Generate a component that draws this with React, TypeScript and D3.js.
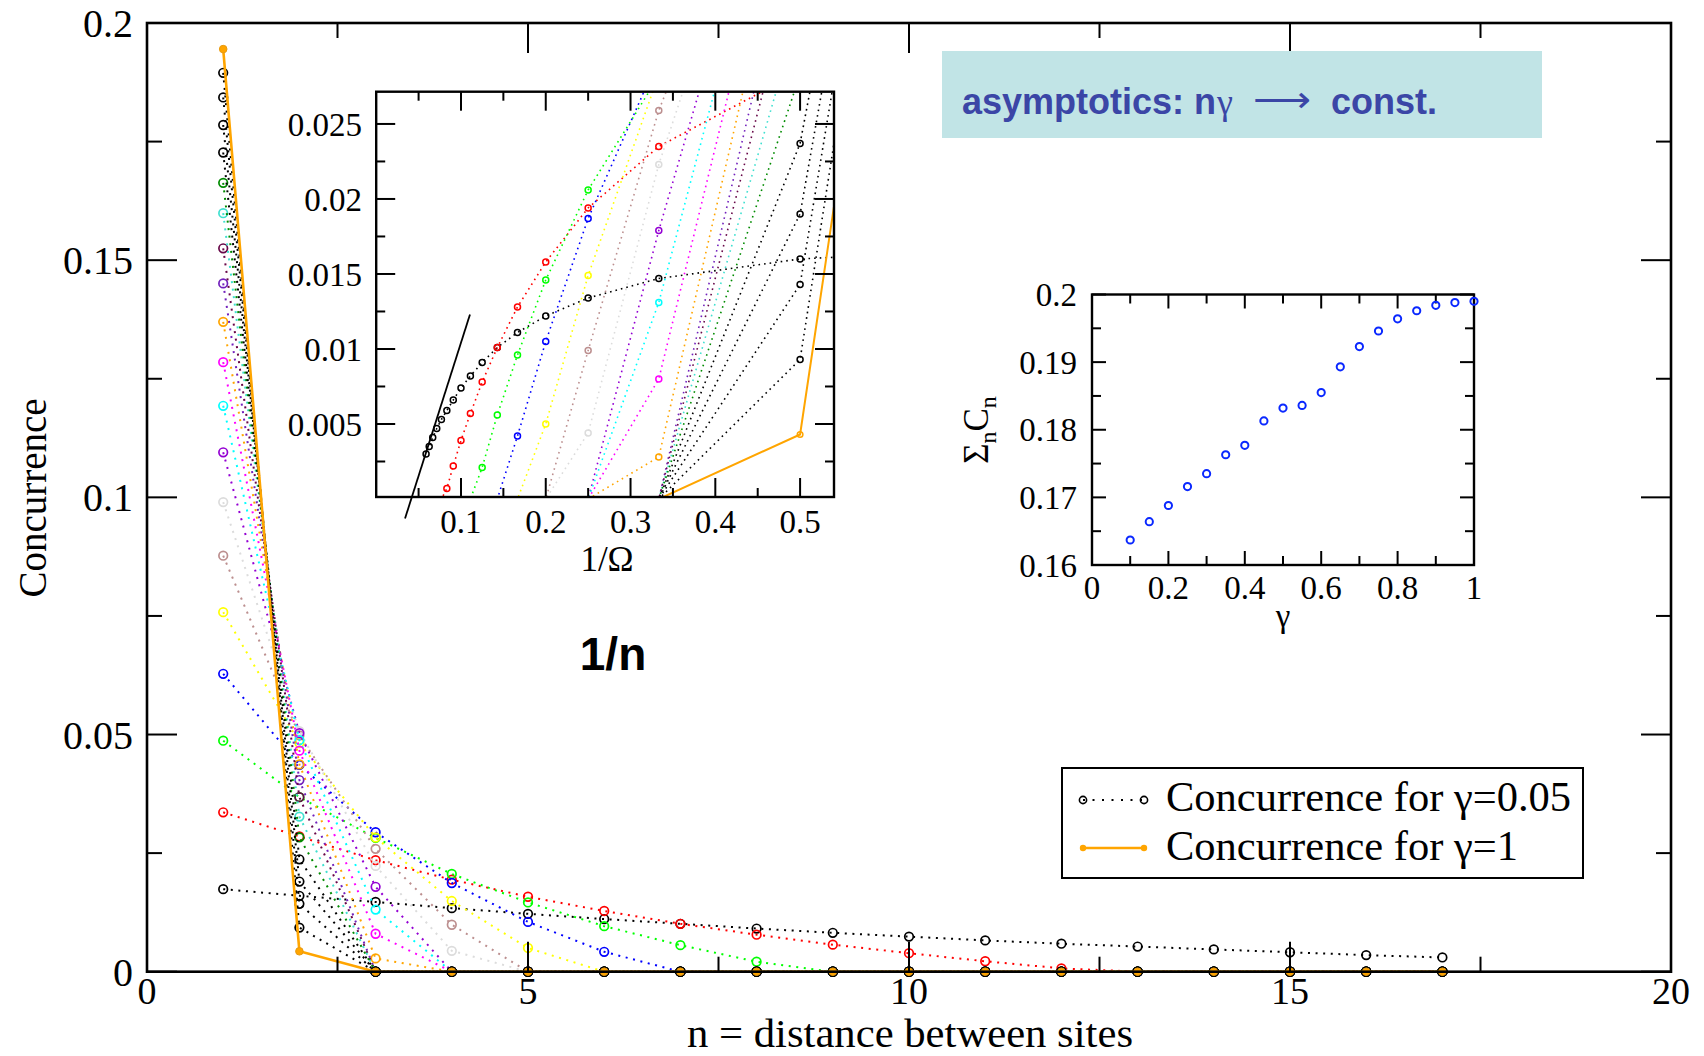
import React from "react";
import * as d3 from "d3";

// Distance between sites n (x of the main panel)
const distances = [1, 2, 3, 4, 5, 6, 7, 8, 9, 10, 11, 12, 13, 14, 15, 16, 17];

// Anisotropy values, one concurrence curve per value
const gammas = [0.05, 0.1, 0.15, 0.2, 0.25, 0.3, 0.35, 0.4, 0.45, 0.5, 0.55, 0.6, 0.65, 0.7, 0.75, 0.8, 0.85, 0.9, 0.95, 1.0];

// Grace-style palette, in set order
const seriesColors = [
  "#000000", "#ff0000", "#00ff00", "#0000ff", "#ffff00", "#bc8f8f", "#dcdcdc", "#9400d3",
  "#00ffff", "#ff00ff", "#ffa500", "#7221bc", "#670748", "#40e0d0", "#008b00",
  "#000000", "#000000", "#000000", "#000000", "#ffa500",
];

// Concurrence C_n for n = 1..17
const c005 = [0.0174, 0.016, 0.0147, 0.0134, 0.0122, 0.0111, 0.0101, 0.0091, 0.0082, 0.0074, 0.0066, 0.0059, 0.0053, 0.0047, 0.0041, 0.0035, 0.003];
const c010 = [0.0336, 0.0285, 0.0235, 0.0194, 0.0158, 0.0128, 0.0101, 0.0078, 0.0057, 0.0039, 0.0022, 0.0007, 0, 0, 0, 0, 0];
const c015 = [0.0487, 0.0368, 0.0282, 0.0206, 0.0146, 0.0096, 0.0056, 0.0021, 0, 0, 0, 0, 0, 0, 0, 0, 0];
const c020 = [0.0628, 0.0436, 0.0294, 0.0187, 0.0105, 0.0042, 0, 0, 0, 0, 0, 0, 0, 0, 0, 0, 0];
const c025 = [0.0758, 0.0482, 0.0283, 0.0149, 0.005, 0, 0, 0, 0, 0, 0, 0, 0, 0, 0, 0, 0];
const c030 = [0.0877, 0.0498, 0.0259, 0.0099, 0, 0, 0, 0, 0, 0, 0, 0, 0, 0, 0, 0, 0];
const c035 = [0.099, 0.0507, 0.0223, 0.0044, 0, 0, 0, 0, 0, 0, 0, 0, 0, 0, 0, 0, 0];
const c040 = [0.1095, 0.0503, 0.0179, 0, 0, 0, 0, 0, 0, 0, 0, 0, 0, 0, 0, 0, 0];
const c045 = [0.1193, 0.0488, 0.0131, 0, 0, 0, 0, 0, 0, 0, 0, 0, 0, 0, 0, 0, 0];
const c050 = [0.1285, 0.0466, 0.008, 0, 0, 0, 0, 0, 0, 0, 0, 0, 0, 0, 0, 0, 0];
const c055 = [0.137, 0.0437, 0.0028, 0, 0, 0, 0, 0, 0, 0, 0, 0, 0, 0, 0, 0, 0];
const c060 = [0.1451, 0.0404, 0, 0, 0, 0, 0, 0, 0, 0, 0, 0, 0, 0, 0, 0, 0];
const c065 = [0.1525, 0.0368, 0, 0, 0, 0, 0, 0, 0, 0, 0, 0, 0, 0, 0, 0, 0];
const c070 = [0.1599, 0.0327, 0, 0, 0, 0, 0, 0, 0, 0, 0, 0, 0, 0, 0, 0, 0];
const c075 = [0.1663, 0.0283, 0, 0, 0, 0, 0, 0, 0, 0, 0, 0, 0, 0, 0, 0, 0];
const c080 = [0.1727, 0.0237, 0, 0, 0, 0, 0, 0, 0, 0, 0, 0, 0, 0, 0, 0, 0];
const c085 = [0.1785, 0.019, 0, 0, 0, 0, 0, 0, 0, 0, 0, 0, 0, 0, 0, 0, 0];
const c090 = [0.1843, 0.0143, 0, 0, 0, 0, 0, 0, 0, 0, 0, 0, 0, 0, 0, 0, 0];
const c095 = [0.1895, 0.0093, 0, 0, 0, 0, 0, 0, 0, 0, 0, 0, 0, 0, 0, 0, 0];
const c100 = [0.1945, 0.0043, 0, 0, 0, 0, 0, 0, 0, 0, 0, 0, 0, 0, 0, 0, 0];

const concurrenceSets = [c005, c010, c015, c020, c025, c030, c035, c040, c045, c050, c055, c060, c065, c070, c075, c080, c085, c090, c095, c100];

// Summed concurrence versus gamma (right inset)
const sumGamma = [0.1, 0.15, 0.2, 0.25, 0.3, 0.35, 0.4, 0.45, 0.5, 0.55, 0.6, 0.65, 0.7, 0.75, 0.8, 0.85, 0.9, 0.95, 1.0];
const sumConcurrence = [0.1637, 0.1664, 0.1688, 0.1716, 0.1735, 0.1763, 0.1777, 0.1813, 0.1832, 0.1836, 0.1855, 0.1893, 0.1923, 0.1946, 0.1964, 0.1976, 0.1984, 0.1988, 0.199];

// 1/n asymptote drawn in the left inset
const asymptoteX = [0.034, 0.1106];
const asymptoteY = [-0.0013, 0.0123];

// Tick values
const mainXMajor = [0, 5, 10, 15, 20];
const mainXMinor = [2.5, 7.5, 12.5, 17.5];
const mainYMajor = [0, 0.05, 0.1, 0.15, 0.2];
const mainYMinor = [0.025, 0.075, 0.125, 0.175];
const inAXMajor = [0.1, 0.2, 0.3, 0.4, 0.5];
const inAXMinor = [0.05, 0.15, 0.25, 0.35, 0.45];
const inAYMajor = [0.005, 0.01, 0.015, 0.02, 0.025];
const inAYMinor = [0.0025, 0.0075, 0.0125, 0.0175, 0.0225];
const inAYLabels = ["0.005", "0.01", "0.015", "0.02", "0.025"];
const inBXMajor = [0, 0.2, 0.4, 0.6, 0.8, 1];
const inBXMinor = [0.1, 0.3, 0.5, 0.7, 0.9];
const inBYMajor = [0.16, 0.17, 0.18, 0.19, 0.2];
const inBYMinor = [0.165, 0.175, 0.185, 0.195];

const SERIF = "'Liberation Serif', 'Times New Roman', serif";
const SANS = "'Liberation Sans', Arial, sans-serif";

type Scale = d3.ScaleLinear<number, number>;

function Frame({ x, y, tx, ty, major, minor, xMajor, xMinor, yMajor, yMinor, sw }: {
  x: Scale; y: Scale; tx: number[]; ty: number[]; major: number; minor: number;
  xMajor: number[]; xMinor: number[]; yMajor: number[]; yMinor: number[]; sw: number;
}) {
  const [x0, x1] = tx;
  const [y0, y1] = ty; // y0 bottom, y1 top
  const ticks: JSX.Element[] = [];
  const addX = (v: number, len: number, k: string) => {
    const px = x(v);
    ticks.push(<line key={"xb" + k} x1={px} x2={px} y1={y0} y2={y0 - len} />);
    ticks.push(<line key={"xt" + k} x1={px} x2={px} y1={y1} y2={y1 + len} />);
  };
  const addY = (v: number, len: number, k: string) => {
    const py = y(v);
    ticks.push(<line key={"yl" + k} x1={x0} x2={x0 + len} y1={py} y2={py} />);
    ticks.push(<line key={"yr" + k} x1={x1} x2={x1 - len} y1={py} y2={py} />);
  };
  xMajor.forEach((v, i) => addX(v, major, "M" + i));
  xMinor.forEach((v, i) => addX(v, minor, "m" + i));
  yMajor.forEach((v, i) => addY(v, major, "M" + i));
  yMinor.forEach((v, i) => addY(v, minor, "m" + i));
  return (
    <g stroke="#000" fill="none">
      <g strokeWidth={2}>{ticks}</g>
      <rect x={x0} y={y1} width={x1 - x0} height={y0 - y1} strokeWidth={sw} />
    </g>
  );
}

export default function App() {
  // Main panel
  const x = d3.scaleLinear().domain([0, 20]).range([147, 1671]);
  const y = d3.scaleLinear().domain([0, 0.2]).range([971.7, 23]);
  const line = d3.line<[number, number]>();

  // Left inset: C_n against 1/n
  const ax = d3.scaleLinear().domain([0, 0.54]).range([376.2, 834]);
  const ay = d3.scaleLinear().domain([0, 0.02715]).range([499, 91.7]);
  const aBottom = 497;

  // Right inset: sum of C_n against gamma
  const bx = d3.scaleLinear().domain([0, 1]).range([1092, 1474]);
  const by = d3.scaleLinear().domain([0.16, 0.2]).range([565, 294.5]);

  const fmtMain = (v: number) => (v === 0 ? "0" : String(v));

  return (
    <svg width={1704} height={1056} style={{ position: "absolute", left: 0, top: 0, background: "#fff" }}
      fontFamily={SERIF}>
      <defs>
        <clipPath id="insetA">
          <rect x={376.2} y={91.7} width={834 - 376.2} height={aBottom - 91.7} />
        </clipPath>
      </defs>
      <rect x={0} y={0} width={1704} height={1056} fill="#fff" />

      {/* concurrence curves */}
      {concurrenceSets.map((vals, si) => {
        const col = seriesColors[si];
        const solid = gammas[si] === 1;
        const pts = distances.map((n, k) => [x(n), y(vals[k])] as [number, number]);
        return (
          <g key={"s" + si}>
            <path d={line(pts) || ""} fill="none" stroke={col}
              strokeWidth={solid ? 2.6 : 2} strokeDasharray={solid ? undefined : "2 5.6"} />
            {pts.map((p, k) =>
              solid ? (
                <circle key={k} cx={p[0]} cy={p[1]} r={3.8} fill={col} stroke="#e89a10" strokeWidth={1} />
              ) : (
                <circle key={k} cx={p[0]} cy={p[1]} r={4.3} fill="none" stroke={col} strokeWidth={1.7} />
              )
            )}
          </g>
        );
      })}

      <Frame x={x} y={y} tx={[147, 1671]} ty={[971.7, 23]} major={30} minor={15}
        xMajor={mainXMajor} xMinor={mainXMinor} yMajor={mainYMajor} yMinor={mainYMinor} sw={2.6} />

      {mainYMajor.map((v) => (
        <text key={"yl" + v} x={133} y={y(v)} dy="0.35em" textAnchor="end" fontSize={40}>{fmtMain(v)}</text>
      ))}
      {mainXMajor.map((v) => (
        <text key={"xl" + v} x={x(v)} y={1004} textAnchor="middle" fontSize={38}>{v}</text>
      ))}
      <text x={910} y={1047} textAnchor="middle" fontSize={40} textLength={446} lengthAdjust="spacingAndGlyphs">
        n = distance between sites
      </text>
      <text transform="translate(46,498) rotate(-90)" textAnchor="middle" fontSize={39}>Concurrence</text>

      {/* left inset */}
      <rect x={376.2} y={91.7} width={834 - 376.2} height={aBottom - 91.7} fill="#fff" />
      <g clipPath="url(#insetA)">
        {concurrenceSets.map((vals, si) => {
          const col = seriesColors[si];
          const solid = gammas[si] === 1;
          const pts = distances.map((n, k) => [ax(1 / n), ay(vals[k])] as [number, number]);
          return (
            <g key={"a" + si}>
              <path d={line(pts) || ""} fill="none" stroke={col}
                strokeWidth={solid ? 2 : 1.6} strokeDasharray={solid ? undefined : "1.6 4"} />
              {pts.map((p, k) =>
                vals[k] > 0 ? (
                  <circle key={k} cx={p[0]} cy={p[1]} r={solid ? 2.8 : 3} fill="none" stroke={col} strokeWidth={1.5} />
                ) : null
              )}
            </g>
          );
        })}
      </g>
      <Frame x={ax} y={ay} tx={[376.2, 834]} ty={[aBottom, 91.7]} major={19} minor={9}
        xMajor={inAXMajor} xMinor={inAXMinor} yMajor={inAYMajor} yMinor={inAYMinor} sw={2.4} />
      <path d={line(asymptoteX.map((v, i) => [ax(v), ay(asymptoteY[i])] as [number, number])) || ""}
        stroke="#000" strokeWidth={1.8} fill="none" />
      {inAYMajor.map((v, i) => (
        <text key={"ayl" + i} x={362} y={ay(v)} dy="0.35em" textAnchor="end" fontSize={33}>{inAYLabels[i]}</text>
      ))}
      {inAXMajor.map((v) => (
        <text key={"axl" + v} x={ax(v)} y={533} textAnchor="middle" fontSize={33}>{v}</text>
      ))}
      <text x={607} y={571} textAnchor="middle" fontSize={35}>1/Ω</text>

      <text x={613} y={670} textAnchor="middle" fontSize={46} fontWeight="bold" fontFamily={SANS}>1/n</text>

      {/* right inset */}
      <rect x={1092} y={294.5} width={1474 - 1092} height={565 - 294.5} fill="#fff" />
      <Frame x={bx} y={by} tx={[1092, 1474]} ty={[565, 294.5]} major={14} minor={9}
        xMajor={inBXMajor} xMinor={inBXMinor} yMajor={inBYMajor} yMinor={inBYMinor} sw={2.4} />
      {sumGamma.map((g, i) => (
        <circle key={"b" + i} cx={bx(g)} cy={by(sumConcurrence[i])} r={3.6} fill="none" stroke="#0a28ff" strokeWidth={2} />
      ))}
      {inBYMajor.map((v) => (
        <text key={"byl" + v} x={1077} y={by(v)} dy="0.35em" textAnchor="end" fontSize={33}>{v}</text>
      ))}
      {inBXMajor.map((v) => (
        <text key={"bxl" + v} x={bx(v)} y={599} textAnchor="middle" fontSize={33}>{v}</text>
      ))}
      <text x={1283} y={627} textAnchor="middle" fontSize={33}>γ</text>
      <text transform="translate(988,430) rotate(-90)" textAnchor="middle" fontSize={35}>
        Σ<tspan dy={8} fontSize={24}>n</tspan><tspan dy={-8} fontSize={35}>C</tspan><tspan dy={8} fontSize={24}>n</tspan>
      </text>

      {/* annotation box */}
      <rect x={942} y={51} width={600} height={87} fill="#c1e4e6" />
      <g fill="#3b46a6" fontSize={36}>
        <text x={962} y={114} fontFamily={SANS} fontWeight="bold">asymptotics: n</text>
        <text x={1217} y={114} fontFamily={SERIF}>γ</text>
        <text x={1253} y={112} fontFamily="'DejaVu Sans', sans-serif" textLength={58} lengthAdjust="spacingAndGlyphs">⟶</text>
        <text x={1331} y={114} fontFamily={SANS} fontWeight="bold">const.</text>
      </g>

      {/* legend */}
      <rect x={1062} y={768} width={521} height={110} fill="#fff" stroke="#000" strokeWidth={2} />
      <line x1={1083} x2={1144} y1={800} y2={800} stroke="#000" strokeWidth={2} strokeDasharray="2 7.5" />
      <circle cx={1083} cy={800} r={3.6} fill="none" stroke="#000" strokeWidth={1.6} />
      <circle cx={1144} cy={800} r={3.6} fill="none" stroke="#000" strokeWidth={1.6} />
      <text x={1166} y={811} fontSize={42.5}>Concurrence for γ=0.05</text>
      <line x1={1083} x2={1144} y1={848} y2={848} stroke="#ffa500" strokeWidth={2.4} />
      <circle cx={1083} cy={848} r={3.2} fill="#ffa500" />
      <circle cx={1144} cy={848} r={3.2} fill="#ffa500" />
      <text x={1166} y={860} fontSize={42.5}>Concurrence for γ=1</text>
    </svg>
  );
}
